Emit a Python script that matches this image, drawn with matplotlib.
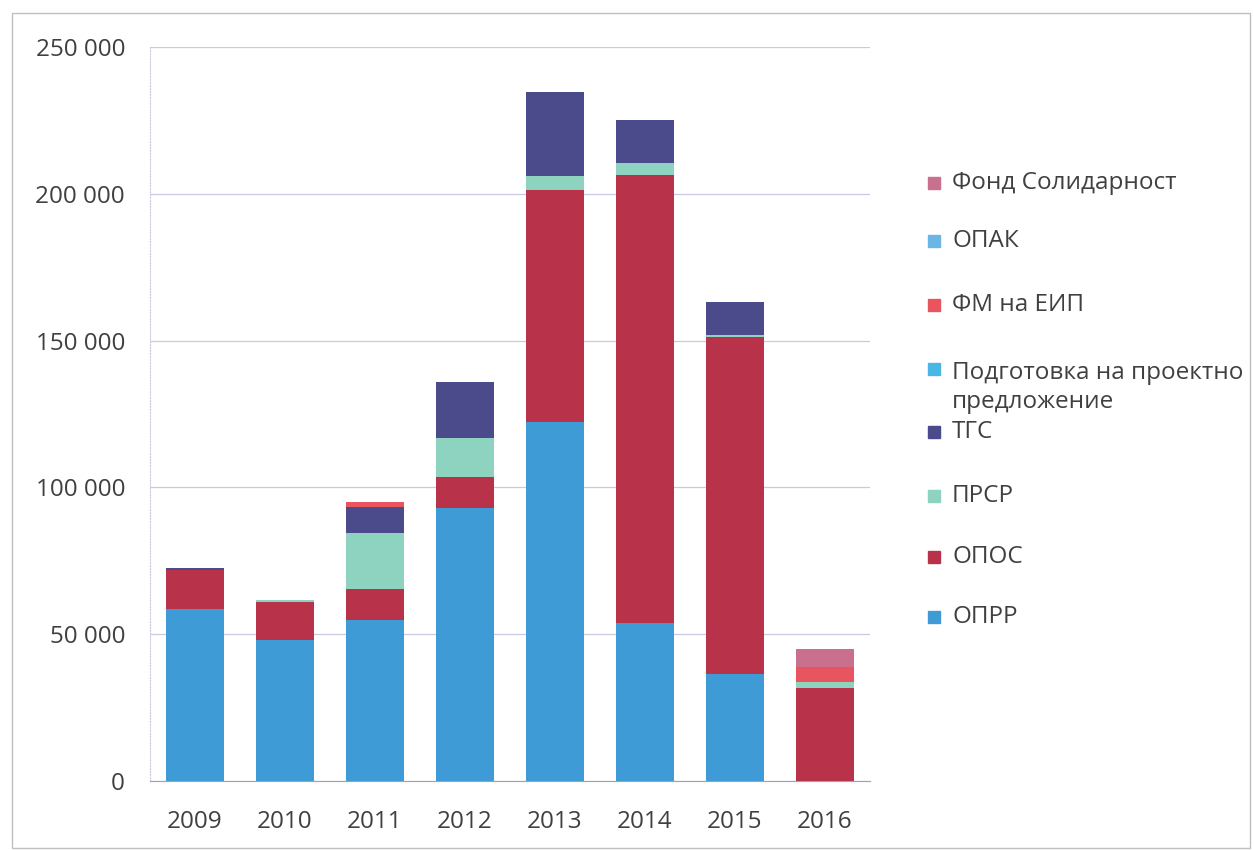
import matplotlib
matplotlib.use("Agg")
import matplotlib.pyplot as plt
from matplotlib.patches import Rectangle
import numpy as np

plt.rcParams['font.family'] = ['Open Sans', 'DejaVu Sans']

years = ['2009', '2010', '2011', '2012', '2013', '2014', '2015', '2016']

# series (bottom to top)
oprr       = [58500, 48000, 54800, 93000, 122300, 53800, 36400, 0]
opos       = [13500, 13000, 10600, 10500, 79000, 152600, 114800, 31700]
prsr       = [0, 700, 19100, 13300, 4800, 4100, 700, 2000]
tgs        = [500, 0, 8900, 19100, 28600, 14600, 11300, 0]
podgotovka = [0, 0, 0, 0, 0, 0, 0, 0]
fm_eip     = [0, 0, 1700, 0, 0, 0, 0, 5100]
opak       = [0, 0, 0, 0, 0, 0, 0, 0]
fond_sol   = [0, 0, 0, 0, 0, 0, 0, 6200]

series_names = ['ОПРР', 'ОПОС', 'ПРСР', 'ТГС', 'Подготовка на проектно\nпредложение',
                'ФМ на ЕИП', 'ОПАК', 'Фонд Солидарност']
series_vals = [oprr, opos, prsr, tgs, podgotovka, fm_eip, opak, fond_sol]
colors = ['#3f9bd6', '#b8334a', '#8ed3bf', '#4b4b8c', '#4ab6e6', '#e8555f', '#6bb6e6', '#c9708e']

fig = plt.figure(figsize=(12.54, 8.5), dpi=100)
ax = fig.add_axes([150/1254, 1-781/850, 720/1254, 734/850])

x = np.arange(len(years))
bottom = np.zeros(len(years))
for name, vals, c in zip(series_names, series_vals, colors):
    v = np.array(vals, dtype=float)
    ax.bar(x, v, 0.65, bottom=bottom, color=c, edgecolor='none', zorder=3)
    bottom += v

ax.set_xlim(-0.5, len(years) - 0.5)
ax.set_ylim(0, 250000)
ax.set_yticks(np.arange(0, 250001, 50000))
ax.set_yticklabels(['0', '50 000', '100 000', '150 000', '200 000', '250 000'])
ax.set_xticks(x)
ax.set_xticklabels(years)
ax.tick_params(axis='both', length=0, labelsize=17.5, colors='#404040')
ax.tick_params(axis='y', pad=18)
ax.tick_params(axis='x', pad=21)
ax.grid(axis='y', color='#c9c9e2', lw=0.9, zorder=0)
for s in ['top', 'right']:
    ax.spines[s].set_visible(False)
ax.spines['left'].set_color('#c9c9e2')
ax.spines['left'].set_linestyle(':')
ax.spines['bottom'].set_color('#a0a0b8')

# legend (manual, Excel-like fixed spacing)
leg_y = [183, 241, 305, 369, 432, 496, 557, 617]
order = list(range(len(series_names)))[::-1]
for yy, idx in zip(leg_y, order):
    fig.patches.append(Rectangle((928/1254, 1-(yy+6)/850), 12/1254, 12/850,
                                 transform=fig.transFigure, color=colors[idx]))
    if '\n' in series_names[idx]:
        fig.text(952/1254, 1-(yy-8)/850, series_names[idx], fontsize=17.5, color='#404040',
                 va='top', ha='left', linespacing=1.3)
    else:
        fig.text(952/1254, 1-yy/850, series_names[idx], fontsize=17.5, color='#404040',
                 va='center', ha='left')

fig.patches.append(Rectangle((12/1254, 2/850), 1238/1254, 835/850, transform=fig.transFigure,
                             fill=False, edgecolor='#bfbfbf', lw=1))

fig.savefig('out.png', dpi=100)
